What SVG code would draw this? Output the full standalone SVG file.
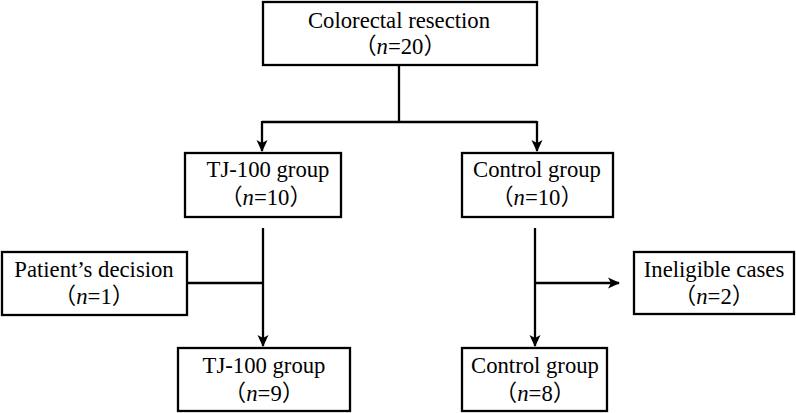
<svg xmlns="http://www.w3.org/2000/svg" width="796" height="413" viewBox="0 0 796 413">
<style>
.box{fill:#fff;stroke:#000;stroke-width:2.3}
.t{font-family:"Liberation Serif","Times New Roman",Tinos,"DejaVu Serif","Noto Sans CJK SC",serif;font-size:22.7px;fill:#000;text-anchor:middle}
.i{font-style:italic}
.ln{fill:none;stroke:#000;stroke-width:2.3}
</style>
<defs>
<marker id="ah" viewBox="0 0 12 12" refX="11" refY="6" markerWidth="12" markerHeight="12" orient="auto" markerUnits="userSpaceOnUse">
<path d="M0,0.5 L12,6 L0,11.5 L3,6 Z" fill="#000"/>
</marker>
</defs>
<g id="connectors">
<path class="ln" d="M399,65 V122 M262,122 H537"/>
<path class="ln" d="M262,121 V151" marker-end="url(#ah)"/>
<path class="ln" d="M537,121 V151" marker-end="url(#ah)"/>
<path class="ln" d="M263,228 V346" marker-end="url(#ah)"/>
<path class="ln" d="M187,283 H263"/>
<path class="ln" d="M535,228 V346" marker-end="url(#ah)"/>
<path class="ln" d="M535,283 H619" marker-end="url(#ah)"/>
</g>
<g id="n1">
<rect class="box" x="263" y="2" width="274" height="63"/>
<text class="t" x="399" y="28">Colorectal resection</text>
<text class="t" x="400" y="54">（<tspan class="i">n</tspan>=20）</text>
</g>
<g id="n2">
<rect class="box" x="185" y="153" width="156" height="64"/>
<text class="t" x="268" y="177">TJ-100 group</text>
<text class="t" x="266" y="205">（<tspan class="i">n</tspan>=10）</text>
</g>
<g id="n3">
<rect class="box" x="462" y="153" width="151" height="64"/>
<text class="t" x="537" y="177">Control group</text>
<text class="t" x="537" y="205">（<tspan class="i">n</tspan>=10）</text>
</g>
<g id="n4">
<rect class="box" x="2" y="252" width="185" height="63"/>
<text class="t" x="94" y="277">Patient’s decision</text>
<text class="t" x="94" y="304">（<tspan class="i">n</tspan>=1）</text>
</g>
<g id="n5">
<rect class="box" x="634" y="252" width="160" height="62"/>
<text class="t" x="714" y="277">Ineligible cases</text>
<text class="t" x="714" y="304">（<tspan class="i">n</tspan>=2）</text>
</g>
<g id="n6">
<rect class="box" x="178" y="348" width="172" height="63"/>
<text class="t" x="264" y="373">TJ-100 group</text>
<text class="t" x="264" y="401">（<tspan class="i">n</tspan>=9）</text>
</g>
<g id="n7">
<rect class="box" x="462" y="348" width="145" height="63"/>
<text class="t" x="535" y="373">Control group</text>
<text class="t" x="535" y="401">（<tspan class="i">n</tspan>=8）</text>
</g>
</svg>
